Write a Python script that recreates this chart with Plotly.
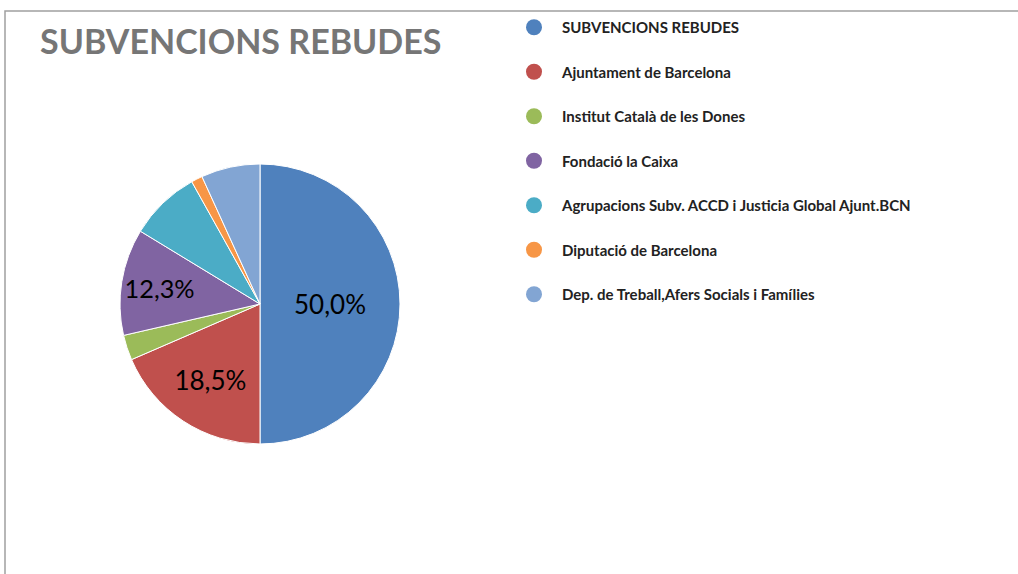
import plotly.graph_objects as go

categories = [
    "SUBVENCIONS REBUDES",
    "Ajuntament de Barcelona",
    "Institut Català de les Dones",
    "Fondació la Caixa",
    "Agrupacions Subv. ACCD i Justicia Global Ajunt.BCN",
    "Diputació de Barcelona",
    "Dep. de Treball,Afers Socials i Famílies",
]
values = [50.0, 18.5, 2.9, 12.3, 8.2, 1.3, 6.8]
show_label = [True, True, False, True, False, False, False]
colors = ["#4F81BD", "#C0504D", "#9BBB59", "#8064A2", "#4BACC6", "#F79646", "#82A5D3"]

FONT = "Lato"
W, H = 1018, 574
ML, MT = 5, 11
PW, PH = W - ML, H - MT

cx, cy, r = 260, 304, 140
dom_x = [(cx - r - ML) / PW, (cx + r - ML) / PW]
yb = PH - (cy - MT)
dom_y = [(yb - r) / PH, (yb + r) / PH]

fig = go.Figure()
fig.add_trace(go.Pie(
    labels=categories, values=values, sort=False, direction="clockwise", rotation=0,
    marker=dict(colors=colors, line=dict(color="white", width=1)),
    texttemplate=["%{percent:.1%}" if s else "" for s in show_label],
    textposition="inside", insidetextorientation="horizontal",
    textfont=dict(family=FONT, size=26, color="black"),
    domain=dict(x=dom_x, y=dom_y), showlegend=False, hoverinfo="label+percent",
))
for i, (c, col) in enumerate(zip(categories, colors)):
    fig.add_trace(go.Scatter(
        x=[None], y=[None], mode="markers", name=f"<b>{c}</b>", legendgroup=f"g{i}",
        marker=dict(symbol="circle", size=24, color=col), showlegend=True,
    ))

fig.update_layout(
    width=W, height=H, separators=",.",
    margin=dict(l=ML, t=MT, r=0, b=0, pad=0, autoexpand=False),
    paper_bgcolor="white", plot_bgcolor="white",
    xaxis=dict(visible=False), yaxis=dict(visible=False),
    title=dict(text="<b>SUBVENCIONS REBUDES</b>", x=40 / W, xanchor="left", xref="container",
               y=1 - 42 / H, yanchor="middle", yref="container",
               font=dict(family=FONT, size=34, color="#767676")),
    legend=dict(x=(506 - ML) / PW, xanchor="left", y=1 - 0 / PH, yanchor="top",
                traceorder="grouped", tracegroupgap=22, itemsizing="trace", itemwidth=46,
                font=dict(family=FONT, size=15, color="#222222"),
                bgcolor="rgba(0,0,0,0)"),
    shapes=[dict(type="rect", xref="paper", yref="paper", x0=0, x1=1.05, y0=-0.05, y1=1,
                 line=dict(color="#A0A0A0", width=1.5), layer="below")],
)
fig.write_html("out.html", config={"displayModeBar": False},
               post_script="document.body.style.margin='0';")
